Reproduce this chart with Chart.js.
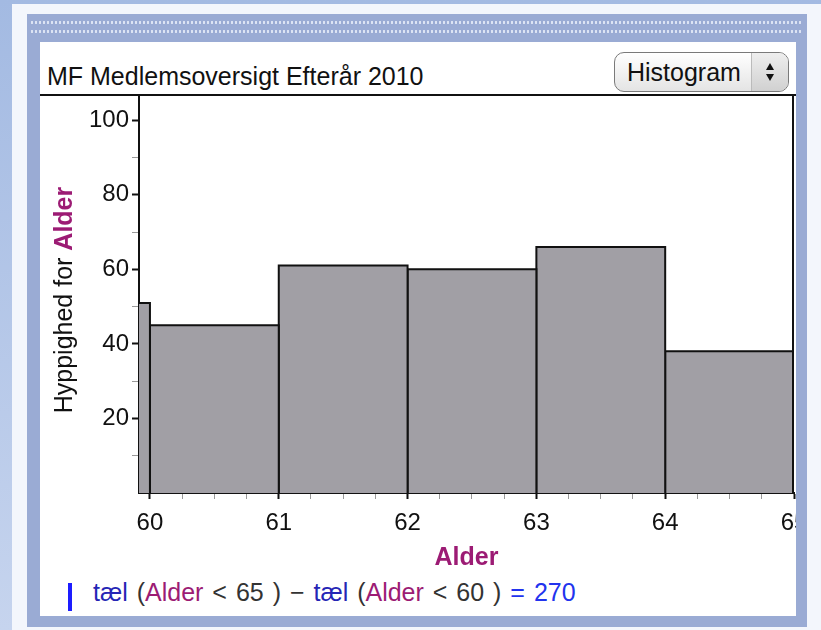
<!DOCTYPE html>
<html>
<head>
<meta charset="utf-8">
<script src="https://cdn.jsdelivr.net/npm/chart.js@4.4.1/dist/chart.umd.min.js"></script>
<style>
  body { margin: 0; width: 821px; height: 630px; overflow: hidden; position: relative;
         background: linear-gradient(#a3bae2, #c6d4ee); font-family: "Liberation Sans", Arial, sans-serif; }
  .outer { position: absolute; left: 12px; top: 4px; right: 0; bottom: 0; background: #f3f6fc; }
  .frame { position: absolute; left: 27px; top: 14px; width: 780px; height: 613px; background: #9aabd4; }
  .dots { position: absolute; left: 30px; top: 18px; width: 772px; height: 18px;
          background-image: radial-gradient(circle, #dde4f4 1.1px, transparent 1.5px);
          background-size: 4px 9px; }
  .panel { position: absolute; left: 40px; top: 42px; width: 756px; height: 574px; background: #fff; overflow: hidden; }
  .title { position: absolute; left: 47px; top: 62px; font-size: 25px; line-height: 28px; color: #111; white-space: nowrap; }
  .sel { position: absolute; left: 614px; top: 52px; width: 175px; height: 40px; border: 1px solid #7a7a7a; border-radius: 10px;
         background: linear-gradient(#ffffff, #e4e4e4); box-sizing: border-box; overflow: hidden; }
  .sel span { position: absolute; left: 12px; top: 5px; font-size: 25px; line-height: 28px; color: #111; }
  .spin { position: absolute; left: 136px; top: 0; width: 39px; height: 40px; border-left: 1px solid #bbb;
          background: linear-gradient(#eeeeee, #cfcfcf); }
  .up, .dn { position: absolute; left: 14px; width: 0; height: 0; border-left: 4px solid transparent; border-right: 4px solid transparent; }
  .up { top: 10px; border-bottom: 7px solid #111; }
  .dn { top: 21px; border-top: 7px solid #111; }
  .topline { position: absolute; left: 40px; top: 94px; width: 756px; height: 2px; background: #111; }
  #chart { position: absolute; left: 40px; top: 96px; }
  .ytitle { position: absolute; left: 63px; top: 300px; transform: translate(-50%, -50%) rotate(-90deg);
            font-size: 25px; white-space: nowrap; color: #111; }
  .purple { color: #9c1b74; }
  .ytitle b { color: #9c1b74; }
  .bar { position: absolute; left: 68px; top: 583px; width: 4px; height: 28px; background: #1d1dff; }
  .formula { position: absolute; left: 93px; top: 578px; font-size: 25px; line-height: 28px; white-space: nowrap;
             color: #333; word-spacing: 2px; }
  .formula .f { color: #2525b5; }
  .formula .res { color: #2233ee; }
</style>
</head>
<body>
<div class="outer"></div>
<div class="frame"></div>
<div class="dots"></div>
<div class="panel"></div>
<div class="title">MF Medlemsoversigt Efterår 2010</div>
<div class="sel"><span>Histogram</span><div class="spin"><div class="up"></div><div class="dn"></div></div></div>
<div class="topline"></div>
<canvas id="chart" width="756" height="479"></canvas>
<div class="ytitle">Hyppighed for <b>Alder</b></div>
<div class="bar"></div>
<div class="formula"><span class="f">tæl</span> (<span class="purple">Alder</span> &lt; 65 ) − <span class="f">tæl</span> (<span class="purple">Alder</span> &lt; 60 ) <span class="res">= 270</span></div>

<script>
// histogram bins (Alder) and counts
const binEdges = [59, 60, 61, 62, 63, 64, 65];
const counts = [51, 45, 61, 60, 66, 38];

// axis ticks
const xTicks = [60, 60.25, 60.5, 60.75, 61, 61.25, 61.5, 61.75, 62, 62.25, 62.5, 62.75,
                63, 63.25, 63.5, 63.75, 64, 64.25, 64.5, 64.75, 65];
const yTicks = [10, 20, 30, 40, 50, 60, 70, 80, 90, 100];
const xMin = 59.915, xMax = 65;
const yMax = 106.5;

const font = 'Liberation Sans, Arial, sans-serif';

const datasets = counts.map((c, i) => ({
  data: [
    { x: binEdges[i], y: 0 },
    { x: binEdges[i], y: c },
    { x: binEdges[i + 1], y: c },
    { x: binEdges[i + 1], y: 0 },
  ],
  fill: 'origin',
  backgroundColor: '#a19fa5',
  borderColor: '#111',
  borderWidth: 2,
  pointRadius: 0,
  tension: 0,
}));

// right edge of the plot box
const plotFrame = {
  id: 'plotFrame',
  afterDraw(chart) {
    const { ctx, chartArea } = chart;
    ctx.save();
    ctx.strokeStyle = '#111';
    ctx.lineWidth = 2;
    ctx.beginPath();
    ctx.moveTo(chartArea.right - 1, chartArea.top);
    ctx.lineTo(chartArea.right - 1, chartArea.bottom);
    ctx.stroke();
    ctx.restore();
  }
};

const isMajorX = v => Number.isInteger(v);

new Chart(document.getElementById('chart'), {
  type: 'line',
  data: { datasets },
  plugins: [plotFrame],
  options: {
    responsive: false,
    animation: false,
    devicePixelRatio: 1,
    layout: { padding: { left: 0, right: 2, top: 0, bottom: 0 } },
    plugins: { legend: { display: false }, tooltip: { enabled: false } },
    scales: {
      x: {
        type: 'linear',
        min: xMin,
        max: xMax,
        afterBuildTicks: s => { s.ticks = xTicks.map(v => ({ value: v })); },
        afterFit: s => { s.height = 82; s.paddingLeft = 0; s.paddingRight = 0; },
        ticks: {
          autoSkip: false,
          maxRotation: 0,
          minRotation: 0,
          padding: 10,
          color: '#111',
          font: { family: font, size: 24 },
          callback: v => isMajorX(v) ? String(v) : '',
        },
        grid: {
          drawOnChartArea: false,
          tickLength: 6,
          tickColor: c => isMajorX(c.tick.value) ? '#111' : '#999',
          tickWidth: c => isMajorX(c.tick.value) ? 2 : 1,
        },
        border: { color: '#111', width: 2 },
        title: {
          display: true,
          text: 'Alder',
          color: '#9c1b74',
          font: { family: font, size: 25, weight: 'bold' },
          padding: { top: 0, bottom: 2 },
        },
      },
      y: {
        min: 0,
        max: yMax,
        afterBuildTicks: s => { s.ticks = yTicks.map(v => ({ value: v })); },
        afterFit: s => { s.width = 99; s.paddingTop = 0; s.paddingBottom = 0; },
        ticks: {
          padding: 3,
          color: '#111',
          font: { family: font, size: 24 },
          callback: v => v % 20 === 0 ? String(v) : '',
        },
        grid: {
          drawOnChartArea: false,
          tickLength: 7,
          tickColor: c => c.tick.value % 20 === 0 ? '#111' : '#999',
          tickWidth: c => c.tick.value % 20 === 0 ? 2 : 1,
        },
        border: { color: '#111', width: 2 },
      },
    },
  },
});
</script>
</body>
</html>
